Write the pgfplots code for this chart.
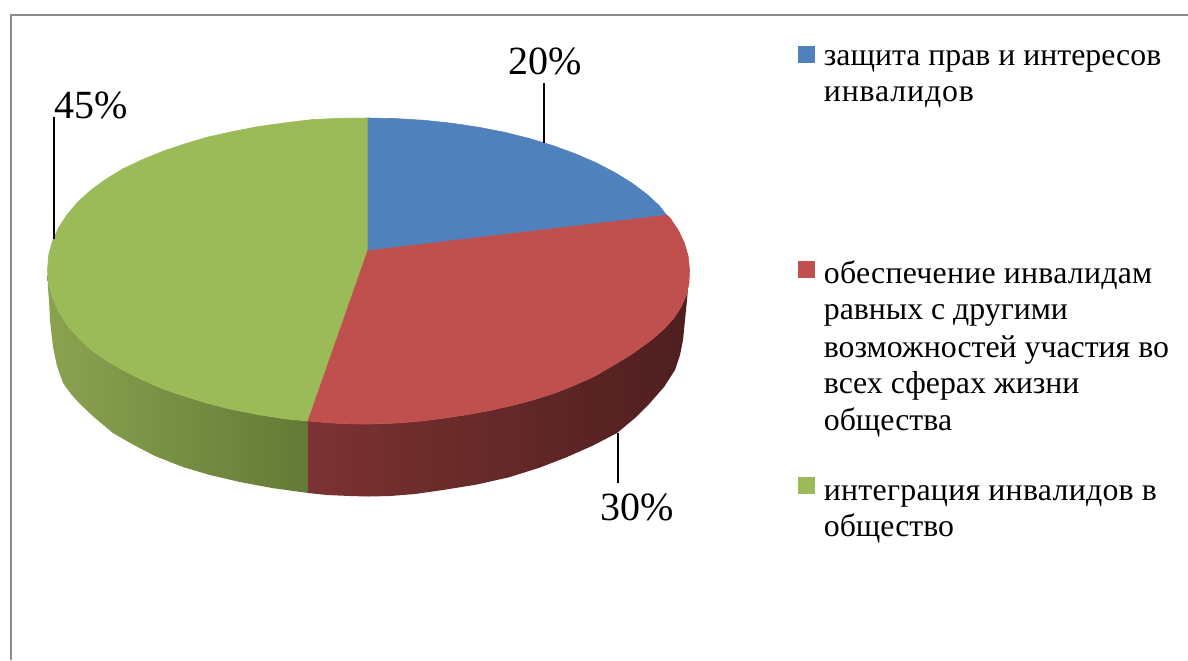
\documentclass[border=0pt]{standalone}
\usepackage{fontspec}
\setmainfont{Liberation Serif}
\usepackage{pgfplots}
\pgfplotsset{compat=1.18}
\definecolor{cblue}{HTML}{4F81BD}
\definecolor{cred}{HTML}{C0504D}
\definecolor{cgreen}{HTML}{9BBB59}
\definecolor{framegray}{HTML}{8C8C8C}
\definecolor{gleft}{HTML}{8BA350}
\definecolor{gright}{HTML}{637A36}
\definecolor{rleft}{HTML}{7C3232}
\definecolor{rright}{HTML}{4E1F1F}
\tikzset{
  legtxt/.style={anchor=base west, inner sep=0pt, font=\fontsize{15.9pt}{18pt}\selectfont, text=black},
  pct/.style={anchor=base west, inner sep=0pt, font=\fontsize{20pt}{22pt}\selectfont, text=black},
}
\begin{document}
\begin{tikzpicture}
\useasboundingbox (0,0) rectangle (594pt,330pt);
\begin{axis}[
  at={(0,0)}, anchor=south west,
  scale only axis, width=594pt, height=330pt,
  xmin=0, xmax=1188, ymin=0, ymax=660, y dir=reverse,
  axis lines=none, clip=true,
]
% frame
\addplot[framegray, line width=1pt] coordinates {(10.5,660) (10.5,15) (1188,15)};
% side walls
\addplot[draw=none, left color=gleft, right color=gright] coordinates {
 (47.5,275) (48.7,283.4) (52.4,297) (58.4,311) (66.9,325) (77.6,337) (90.5,349.5) (105.5,360) (122.6,370) (141.5,379.5) (162.2,388.5) (184.4,396.2) (208,403.4) (232.8,409.6) (258.7,414.7) (285.4,418.8) (308,421)
 (308,493) (272,488) (240,482) (210,475) (183,467) (155,456) (132,444) (113,433) (95,418) (80,404) (71,394) (63,383) (57,366) (53,347) (50,320) (49,300) (48,288)} --cycle;
\addplot[draw=none, left color=rleft, middle color=rright, right color=rright] coordinates {
 (308,421) (322,422.2) (338,423.3) (352,423.9) (368.5,424) (384,423.6) (400,422.8) (422,421) (445,418) (468,414.5) (490,410.5) (512,405.5) (533,400) (555,393) (575,385) (595,376) (613,365.5) (632,354) (650,341) (663,330) (674,318) (681,307) (686,296) (689,283)
 (688,288) (687,300) (685,320) (683,340) (680,355) (675,370) (664,387) (650,403) (635,418) (617,433) (593,445.5) (567,457) (540,467.5) (510,477) (477,484.5) (443,490) (415,494) (390,496) (368,496.5) (350,496) (327,495) (308,493)} --cycle;
% top surface
\addplot[fill=cgreen, draw=cgreen, line width=0.3pt] coordinates {
 (368,250) (308,421) (285.4,418.8) (258.7,414.7) (232.8,409.6) (208,403.4) (184.4,396.2) (162.2,388.5) (141.5,379.5) (122.6,370) (105.5,360) (90.5,349.5) (77.6,337) (66.9,325) (58.4,311) (52.4,297) (48.7,283.4) (47.5,270)
 (48.7,255) (52.4,241.5) (58.4,228) (66.9,215) (77.6,202.3) (90.5,190.5) (105.5,179.5) (122.6,169) (141.5,160) (162.2,151.5) (184.4,144) (208,137) (232.8,131.5) (258.7,126.5) (285.4,122.8) (312.8,119.5) (340.5,118.3) (368,118)} --cycle;
\addplot[fill=cred, draw=cred, line width=0.3pt] coordinates {
 (368,250) (666,214.5) (670.1,218) (678.6,230.7) (684.6,243.6) (688.3,256.7) (689.5,270) (689,283) (686,296) (681,307) (674,318) (663,330) (650,341) (632,354) (613,365.5) (595,376) (575,385) (555,393) (533,400) (512,405.5) (490,410.5) (468,414.5) (445,418) (422,421) (400,422.8) (384,423.6) (368.5,424) (352,423.9) (338,423.3) (322,422.2) (308,421)} --cycle;
\addplot[fill=cblue, draw=cblue, line width=0.3pt] coordinates {
 (368,250) (368,118) (396.5,118.6) (424.2,120.3) (451.6,123.2) (478.3,127.2) (504.2,132.2) (529,138.4) (552.6,145.5) (574.8,153.6) (595.5,162.5) (614.4,172.3) (631.5,182.8) (646.5,194) (659.4,205.8) (666,214.5)} --cycle;
% leader lines
\addplot[black, line width=1pt] coordinates {(54,117) (54,238.5)};
\addplot[black, line width=1pt] coordinates {(544,83) (544,143)};
\addplot[black, line width=1pt] coordinates {(618,433) (618,482.5)};
% legend keys
\addplot[only marks, mark=square*, mark size=4pt, color=cblue] coordinates {(806.5,54.5)};
\addplot[only marks, mark=square*, mark size=4pt, color=cred] coordinates {(806.5,269.5)};
\addplot[only marks, mark=square*, mark size=4pt, color=cgreen] coordinates {(806.5,485.3)};
% percentages
\node[pct] at (axis cs:54.5,118) {45\%};
\node[pct] at (axis cs:508.5,74.5) {20\%};
\node[pct] at (axis cs:600.5,520) {30\%};
% legend text
\node[legtxt] at (axis cs:823.5,65) {защита прав и интересов};
\node[legtxt] at (axis cs:823.5,101.5) {\addfontfeatures{LetterSpace=2.8}инвалидов};
\node[legtxt] at (axis cs:823.5,283) {\addfontfeatures{LetterSpace=0.8}обеспечение инвалидам};
\node[legtxt] at (axis cs:823.5,319.5) {равных с другими};
\node[legtxt] at (axis cs:823.5,357) {возможностей участия во};
\node[legtxt] at (axis cs:823.5,393.5) {всех сферах жизни};
\node[legtxt] at (axis cs:823.5,430) {общества};
\node[legtxt] at (axis cs:823.5,500) {\addfontfeatures{LetterSpace=0.9}интеграция инвалидов в};
\node[legtxt] at (axis cs:823.5,536) {общество};
\end{axis}
\end{tikzpicture}
\end{document}
